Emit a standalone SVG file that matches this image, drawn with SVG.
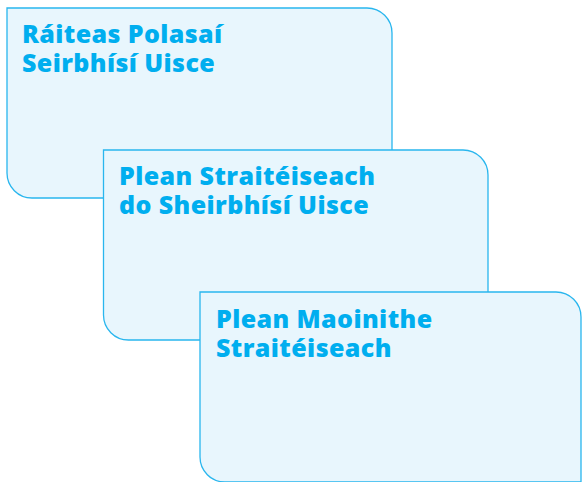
<svg xmlns="http://www.w3.org/2000/svg" width="582" height="482" viewBox="0 0 582 482">
<style>
.card{fill:#E8F6FD;stroke:#29B6EE;stroke-width:1.3}
.t{font-family:"Open Sans","Noto Sans",sans-serif;font-weight:800;font-size:25px;letter-spacing:0.4px;fill:#00AEEF}
</style>
<rect width="582" height="482" fill="#fff"/>
<g id="node1">
<path class="card" d="M7,8 H367 A25,25 0 0 1 392,33 V198 H32 A25,25 0 0 1 7,173 Z"/>
<text class="t"><tspan x="22" y="43">Ráiteas Polasaí</tspan><tspan x="22" y="72">Seirbhísí Uisce</tspan></text>
</g>
<g id="node2">
<path class="card" d="M103.5,150 H463 A25,25 0 0 1 488,175 V340 H128.5 A25,25 0 0 1 103.5,315 Z"/>
<text class="t"><tspan x="119" y="185">Plean Straitéiseach</tspan><tspan x="119" y="214">do Sheirbhísí Uisce</tspan></text>
</g>
<g id="node3">
<path class="card" d="M200,292 H556 A25,25 0 0 1 581,317 V482 H225 A25,25 0 0 1 200,457 Z"/>
<text class="t"><tspan x="216" y="328">Plean Maoinithe</tspan><tspan x="216" y="357">Straitéiseach</tspan></text>
</g>
<g id="connectors"/>
</svg>
